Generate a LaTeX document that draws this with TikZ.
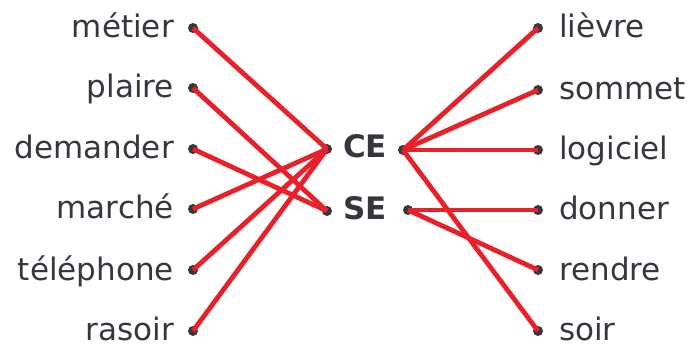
\documentclass[tikz,border=0pt]{standalone}
\usepackage{fontspec}
\setmainfont{DejaVu Sans}
\usetikzlibrary{positioning}
\definecolor{ink}{HTML}{36363E}
\definecolor{linkred}{HTML}{E8202A}

\begin{document}
\begin{tikzpicture}[x=1pt, y=-1pt,
  dot/.style = {circle, fill=ink, inner sep=0pt, minimum size=10pt},
  word/.style = {text=ink, font=\fontsize{31}{36}\selectfont, inner sep=0pt},
  link/.style = {draw=linkred, line width=4.8pt}]
  \useasboundingbox (0,0) rectangle (692,344);

  % left column
  \node[dot] (metier) at (193,28) {};
  \node[dot] (plaire) at (193,88) {};
  \node[dot] (demander) at (193,149) {};
  \node[dot] (marche) at (193,209) {};
  \node[dot] (telephone) at (193,270) {};
  \node[dot] (rasoir) at (193,331) {};
  \node[word, anchor=base east] at ([xshift=-19pt, yshift=-10pt]metier) {métier};
  \node[word, anchor=base east] at ([xshift=-19pt, yshift=-10pt]plaire) {plaire};
  \node[word, anchor=base east] at ([xshift=-19pt, yshift=-10pt]demander) {demander};
  \node[word, anchor=base east] at ([xshift=-19pt, yshift=-10pt]marche) {marché};
  \node[word, anchor=base east] at ([xshift=-19pt, yshift=-10pt]telephone) {téléphone};
  \node[word, anchor=base east] at ([xshift=-19pt, yshift=-9pt]rasoir) {rasoir};

  % middle
  \node[dot] (ceL) at (327,149) {};
  \node[dot] (seL) at (327,211) {};
  \node[word, font=\fontsize{31}{36}\selectfont\bfseries, anchor=base west] (ce) at ([xshift=16pt, yshift=-9pt]ceL) {CE};
  \node[word, font=\fontsize{31}{36}\selectfont\bfseries, anchor=base west] (se) at ([xshift=16pt, yshift=-9pt]seL) {SE};
  \node[dot] (ceR) at (403,150) {};
  \node[dot] (seR) at (408,210) {};

  % right column
  \node[dot] (lievre) at (538,28) {};
  \node[dot] (sommet) at (538,90) {};
  \node[dot] (logiciel) at (538,150) {};
  \node[dot] (donner) at (538,210) {};
  \node[dot] (rendre) at (538,270) {};
  \node[dot] (soir) at (538,331) {};
  \node[word, anchor=base west] at ([xshift=21pt, yshift=-10pt]lievre) {lièvre};
  \node[word, anchor=base west] at ([xshift=21pt, yshift=-10pt]sommet) {sommet};
  \node[word, anchor=base west] at ([xshift=21pt, yshift=-10pt]logiciel) {logiciel};
  \node[word, anchor=base west] at ([xshift=21pt, yshift=-10pt]donner) {donner};
  \node[word, anchor=base west] at ([xshift=21pt, yshift=-10pt]rendre) {rendre};
  \node[word, anchor=base west] at ([xshift=21pt, yshift=-9pt]soir) {soir};

  % links
  \draw[link] (metier.center) -- (ceL.center);
  \draw[link] (plaire.center) -- (seL.center);
  \draw[link] (demander.center) -- (seL.center);
  \draw[link] (marche.center) -- (ceL.center);
  \draw[link] (telephone.center) -- (ceL.center);
  \draw[link] (rasoir.center) -- (ceL.center);
  \draw[link] (ceR.center) -- (lievre.center);
  \draw[link] (ceR.center) -- (sommet.center);
  \draw[link] (ceR.center) -- (logiciel.center);
  \draw[link] (ceR.center) -- (soir.center);
  \draw[link] (seR.center) -- (donner.center);
  \draw[link] (seR.center) -- (rendre.center);
\end{tikzpicture}
\end{document}
